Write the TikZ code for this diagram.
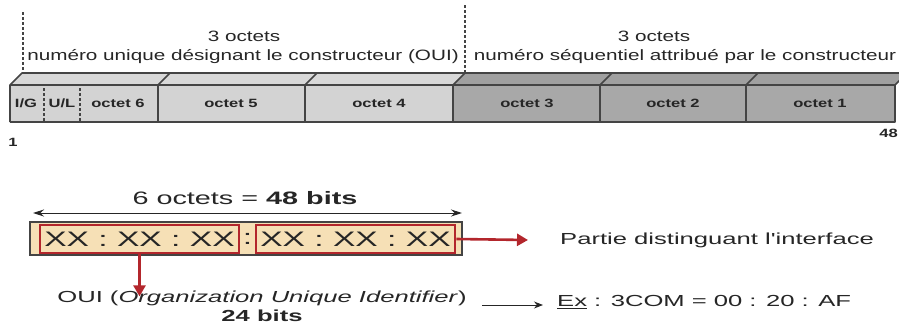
\documentclass[tikz,border=0pt]{standalone}
\usepackage{fontspec}
\setmainfont{Liberation Sans}
\newfontfamily\topfont[FakeStretch=1.38]{Liberation Sans}
\newfontfamily\botfont[FakeStretch=1.6]{Liberation Sans}
\usetikzlibrary{arrows.meta}

\definecolor{lightface}{HTML}{D3D3D3}
\definecolor{lighttop}{HTML}{D8D8D8}
\definecolor{darkface}{HTML}{A8A8A8}
\definecolor{darktop}{HTML}{A0A0A0}
\definecolor{edgegray}{HTML}{444444}
\definecolor{beige}{HTML}{F6E0B6}
\definecolor{macred}{HTML}{B3262C}
\definecolor{inkgray}{HTML}{262626}

\tikzset{
  edge/.style={draw=edgegray, line width=1.6pt, line join=round},
  guide/.style={draw=edgegray, line width=1.1pt, dash pattern=on 3pt off 2pt},
  toptext/.style={inner sep=0pt, text=inkgray, font=\topfont\fontsize{15}{17}\selectfont},
  octlabel/.style={inner sep=0pt, text=inkgray, font=\topfont\bfseries\fontsize{12}{14}\selectfont},
  bittext/.style={inner sep=0pt, text=inkgray, font=\topfont\bfseries\fontsize{12}{14}\selectfont},
  bottext/.style={inner sep=0pt, text=inkgray, font=\botfont\fontsize{16}{18}\selectfont},
  bigtext/.style={inner sep=0pt, text=inkgray, font=\botfont\fontsize{18}{20}\selectfont},
  xxtext/.style={inner sep=0pt, text=inkgray, font=\botfont\fontsize{21}{24}\selectfont},
  redbox/.style={draw=macred, line width=2.6pt},
  redarrow/.style={draw=macred, line width=2.6pt, -{Triangle[length=11pt,width=12pt]}},
  blackarrow/.style={draw=inkgray, line width=1pt, -{Stealth[length=9pt,width=7pt]}},
  dimarrow/.style={draw=inkgray, line width=1pt, {Stealth[length=11pt,width=7pt]}-{Stealth[length=11pt,width=7pt]}},
}

\begin{document}
\begin{tikzpicture}[x=1pt, y=-1pt]
\useasboundingbox (0,0) rectangle (899,324);

% ---- 3D frame bar: top faces ----
\fill[lighttop] (10,85) -- (22,73) -- (465,73) -- (453,85) -- cycle;
\fill[darktop] (453,85) -- (465,73) -- (907,73) -- (895,85) -- cycle;
% front faces
\fill[lightface] (10,85) rectangle (453,122);
\fill[darkface] (453,85) rectangle (895,122);
% outline
\draw[edge] (10,122) -- (10,85) -- (22,73) -- (907,73);
\draw[edge] (10,85) -- (895,85);
\draw[edge] (10,122) -- (895,122) -- (895,85) -- (907,73);
\foreach \d in {158,305,453,600,746} {
  \draw[edge] (\d,122) -- (\d,85) -- (\d+12,73);
}
% bit boundaries inside octet 6
\draw[guide] (44,88) -- (44,121);
\draw[guide] (80,88) -- (80,121);

% field boundaries above the bar
\coordinate (gA) at (23,12);
\coordinate (gB) at (23,73);
\coordinate (gC) at (465,5);
\coordinate (gD) at (465,73);
\draw[guide] (gA) -- (gB);
\draw[guide] (gC) -- (gD);

% field captions
\node[toptext] (oct1) at (244,36) {3 octets};
\node[toptext] (oui1) at (243,57) {numéro unique désignant le constructeur (OUI)};
\node[toptext] (oct2) at (654,36) {3 octets};
\node[toptext] (nic1) at (685,57) {numéro séquentiel attribué par le constructeur};

% octet labels
\node[octlabel] (ig) at (26,103) {I/G};
\node[octlabel] (ul) at (62,103) {U/L};
\node[octlabel] (o6) at (118,103) {octet 6};
\node[octlabel] (o5) at (231,103) {octet 5};
\node[octlabel] (o4) at (379,103) {octet 4};
\node[octlabel] (o3) at (527,103) {octet 3};
\node[octlabel] (o2) at (673,103) {octet 2};
\node[octlabel] (o1) at (820,103) {octet 1};
\node[bittext] (b1) at (13,142) {1};
\node[bittext, anchor=east] (b48) at (898,133) {48};

% ---- address layout ----
\coordinate (dl) at (33,213);
\coordinate (dr) at (462,213);
\draw[dimarrow] (dl) -- (dr);
\node[bigtext] (len) at (245,198) {6 octets = \textbf{48 bits}};

\node[draw=edgegray, line width=1.3pt, fill=beige, minimum width=432pt, minimum height=33pt, inner sep=0pt] (addr) at (246,238.5) {};
\node[redbox, minimum width=199pt, minimum height=28pt, inner sep=0pt] (r1) at (139.5,239) {};
\node[redbox, minimum width=199pt, minimum height=28pt, inner sep=0pt] (r2) at (355.5,239) {};
\node[xxtext] (x1) at (r1) {XX : XX : XX};
\node[xxtext] (x2) at (r2) {XX : XX : XX};
\node[xxtext] (sep) at (247.5,239) {:};

\node[bottext, anchor=west] (part) at (560,240) {Partie distinguant l'interface};
\node[bottext] (oui) at (262,298) {OUI (\textit{Organization Unique Identifier})};
\node[bottext] (bits) at (262,316) {\textbf{24 bits}};
\node[bottext, anchor=west] (ex) at (557,302) {\underline{Ex} : 3COM = 00 : 20 : AF};

\draw[redarrow] (r1.south) -- ([yshift=-6pt]r1.south |- oui.north);
\draw[redarrow] (r2.east) -- ([xshift=-32pt]part.west);
\coordinate (exa) at (482,305);
\draw[blackarrow] (exa) -- ([xshift=-14pt]exa -| ex.west);
\end{tikzpicture}
\end{document}
